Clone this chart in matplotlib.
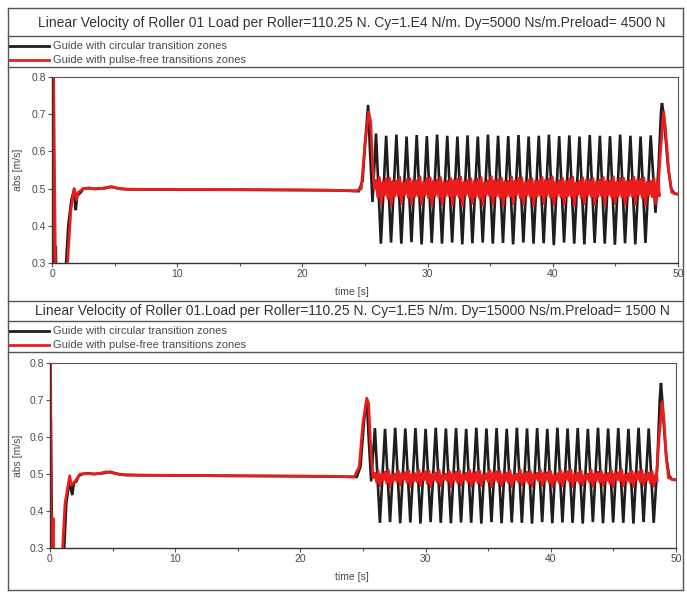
import matplotlib.pyplot as plt
from matplotlib.lines import Line2D

plt.rcParams['font.family'] = ['Liberation Sans', 'DejaVu Sans']

W, H = 687, 593

titles = [
    "Linear Velocity of Roller 01 Load per Roller=110.25 N. Cy=1.E4 N/m. Dy=5000 Ns/m.Preload= 4500 N",
    "Linear Velocity of Roller 01.Load per Roller=110.25 N. Cy=1.E5 N/m. Dy=15000 Ns/m.Preload= 1500 N",
]
legend_labels = ["Guide with circular transition zones", "Guide with pulse-free transitions zones"]
x_label = "time [s]"
y_label = "abs [m/s]"

# ---- panel 1 (Cy=1.E4) ----
p1_black_start_t = [0.0, 0.08, 0.22, 0.3, 0.38, 0.95, 1.3, 1.55, 1.75, 1.9, 2.0, 2.3, 2.5, 3.0, 3.5,
                    4.0, 4.5, 4.8, 5.2, 6.0, 10.0, 15.0, 20.0, 23.0, 24.5, 24.8, 25.05, 25.25, 25.4, 25.6]
p1_black_start_v = [0.2, 0.85, 0.2, 0.345, 0.2, 0.2, 0.40, 0.47, 0.495, 0.442, 0.48, 0.49, 0.5, 0.501, 0.499,
                    0.501, 0.503, 0.505, 0.501, 0.498, 0.497, 0.497, 0.496, 0.495, 0.493, 0.52, 0.64, 0.725, 0.60, 0.464]
p1_black_osc_t = [25.88, 26.27, 26.69, 27.08, 27.51, 27.90, 28.32, 28.71, 29.13, 29.52, 29.94, 30.33,
                  30.76, 31.15, 31.57, 31.96, 32.38, 32.77, 33.19, 33.58, 34.01, 34.40, 34.82, 35.21,
                  35.63, 36.02, 36.44, 36.83, 37.26, 37.65, 38.07, 38.46, 38.88, 39.27, 39.69, 40.08,
                  40.51, 40.90, 41.32, 41.71, 42.13, 42.52, 42.95, 43.34, 43.76, 44.15, 44.57, 44.96,
                  45.38, 45.77, 46.20, 46.59, 47.01, 47.40, 47.82, 48.20]
p1_black_osc_v = [0.648, 0.352, 0.642, 0.355, 0.645, 0.352, 0.640, 0.356, 0.644, 0.350, 0.641, 0.354,
                  0.645, 0.352, 0.642, 0.355, 0.640, 0.350, 0.643, 0.353, 0.640, 0.355, 0.645, 0.352,
                  0.642, 0.354, 0.641, 0.350, 0.644, 0.355, 0.640, 0.352, 0.642, 0.353, 0.645, 0.348,
                  0.641, 0.355, 0.643, 0.352, 0.640, 0.350, 0.644, 0.354, 0.642, 0.352, 0.641, 0.349,
                  0.645, 0.353, 0.642, 0.350, 0.640, 0.354, 0.643, 0.435]
p1_black_end_t = [48.45, 48.65, 48.72, 48.85, 49.0, 49.2, 49.45, 49.7, 50.0]
p1_black_end_v = [0.56, 0.71, 0.73, 0.70, 0.64, 0.56, 0.50, 0.487, 0.485]

p1_red_start_t = [0.0, 0.1, 0.3, 1.05, 1.5, 1.76, 1.85, 1.95, 2.1, 2.3, 2.5, 3.0, 3.3, 3.7, 4.2,
                  4.6, 5.0, 5.5, 7.0, 15.0, 22.0, 24.3, 24.7, 25.0, 25.3, 25.45, 25.6, 25.75]
p1_red_start_v = [0.2, 0.9, 0.2, 0.2, 0.44, 0.50, 0.49, 0.47, 0.49, 0.495, 0.5, 0.502, 0.499, 0.501, 0.5,
                  0.505, 0.503, 0.499, 0.498, 0.497, 0.496, 0.494, 0.50, 0.62, 0.706, 0.68, 0.57, 0.50]
p1_red_cycles = [
    [0.522, 0.478, 0.530, 0.458, 0.518, 0.482],
    [0.526, 0.474, 0.528, 0.455, 0.520, 0.480],
    [0.520, 0.480, 0.531, 0.460, 0.516, 0.484],
    [0.524, 0.476, 0.527, 0.456, 0.522, 0.479],
    [0.521, 0.479, 0.532, 0.458, 0.517, 0.483],
    [0.527, 0.475, 0.529, 0.454, 0.521, 0.481],
    [0.523, 0.477, 0.530, 0.459, 0.519, 0.480],
    [0.520, 0.481, 0.528, 0.457, 0.523, 0.482],
    [0.525, 0.476, 0.531, 0.455, 0.518, 0.484],
    [0.522, 0.478, 0.527, 0.460, 0.520, 0.479],
    [0.526, 0.474, 0.530, 0.456, 0.516, 0.483],
    [0.521, 0.480, 0.532, 0.458, 0.522, 0.481],
    [0.524, 0.477, 0.528, 0.455, 0.519, 0.480],
    [0.520, 0.479, 0.531, 0.459, 0.521, 0.484],
    [0.527, 0.475, 0.529, 0.457, 0.517, 0.482],
    [0.523, 0.478, 0.527, 0.454, 0.520, 0.479],
    [0.521, 0.481, 0.530, 0.460, 0.523, 0.483],
    [0.525, 0.476, 0.532, 0.456, 0.518, 0.481],
    [0.522, 0.477, 0.528, 0.458, 0.520, 0.480],
    [0.526, 0.479, 0.531, 0.455, 0.516, 0.484],
    [0.520, 0.475, 0.529, 0.459, 0.522, 0.482],
    [0.524, 0.478, 0.527, 0.457, 0.519, 0.479],
    [0.523, 0.480, 0.530, 0.454, 0.521, 0.483],
    [0.521, 0.476, 0.532, 0.460, 0.517, 0.481],
    [0.527, 0.477, 0.528, 0.456, 0.520, 0.480],
    [0.522, 0.479, 0.531, 0.458, 0.523, 0.484],
    [0.525, 0.475, 0.529, 0.455, 0.518, 0.482],
    [0.520, 0.478, 0.527, 0.459, 0.521, 0.480],
]
p1_red_end_t = [48.45, 48.6, 48.85, 49.0, 49.25, 49.5, 49.75, 50.0]
p1_red_end_v = [0.52, 0.60, 0.706, 0.66, 0.55, 0.49, 0.486, 0.485]

# ---- panel 2 (Cy=1.E5) ----
p2_black_start_t = [0.0, 0.06, 0.2, 1.0, 1.3, 1.55, 1.78, 1.9, 2.1, 2.3, 2.6, 3.0, 3.5, 4.0, 4.5,
                    4.8, 5.3, 6.0, 10.0, 15.0, 20.0, 23.0, 24.5, 24.8, 25.1, 25.3, 25.45, 25.65]
p2_black_start_v = [0.2, 0.646, 0.2, 0.2, 0.42, 0.48, 0.443, 0.475, 0.48, 0.495, 0.5, 0.502, 0.5, 0.501, 0.504,
                    0.506, 0.501, 0.497, 0.496, 0.495, 0.494, 0.493, 0.492, 0.52, 0.65, 0.70, 0.60, 0.48]
p2_black_osc_t = [25.95, 26.35, 26.76, 27.16, 27.57, 27.97, 28.38, 28.78, 29.19, 29.59, 30.00, 30.40,
                  30.81, 31.21, 31.62, 32.02, 32.43, 32.83, 33.24, 33.64, 34.05, 34.45, 34.86, 35.26,
                  35.67, 36.07, 36.48, 36.88, 37.29, 37.69, 38.10, 38.50, 38.91, 39.31, 39.72, 40.12,
                  40.53, 40.93, 41.34, 41.74, 42.15, 42.55, 42.96, 43.36, 43.77, 44.17, 44.58, 44.98,
                  45.39, 45.79, 46.20, 46.60, 47.01, 47.41, 47.82, 48.22]
p2_black_osc_v = [0.624, 0.368, 0.622, 0.370, 0.625, 0.367, 0.623, 0.369, 0.624, 0.366, 0.622, 0.370,
                  0.625, 0.368, 0.623, 0.367, 0.624, 0.369, 0.622, 0.368, 0.625, 0.366, 0.623, 0.370,
                  0.624, 0.367, 0.622, 0.369, 0.625, 0.368, 0.623, 0.366, 0.624, 0.370, 0.622, 0.367,
                  0.625, 0.369, 0.623, 0.368, 0.624, 0.366, 0.622, 0.370, 0.625, 0.367, 0.623, 0.369,
                  0.624, 0.368, 0.622, 0.366, 0.625, 0.370, 0.623, 0.368]
p2_black_end_t = [48.5, 48.7, 48.8, 48.9, 49.05, 49.25, 49.45, 49.7, 50.0]
p2_black_end_v = [0.52, 0.70, 0.746, 0.70, 0.62, 0.54, 0.495, 0.485, 0.484]

p2_red_start_t = [0.0, 0.04, 0.12, 0.25, 0.33, 0.85, 1.2, 1.57, 1.7, 1.85, 2.0, 2.2, 2.4, 3.0, 3.5,
                  4.0, 4.5, 5.0, 5.5, 7.0, 15.0, 22.0, 24.3, 24.7, 25.0, 25.3, 25.45, 25.6, 25.8]
p2_red_start_v = [0.2, 0.85, 0.2, 0.38, 0.2, 0.2, 0.42, 0.495, 0.47, 0.475, 0.48, 0.49, 0.5, 0.501, 0.5,
                  0.502, 0.506, 0.503, 0.499, 0.497, 0.495, 0.494, 0.492, 0.52, 0.64, 0.705, 0.69, 0.58, 0.49]
p2_red_cycles = [
    [0.502, 0.478, 0.508, 0.468, 0.500, 0.484],
    [0.505, 0.476, 0.510, 0.466, 0.498, 0.482],
    [0.500, 0.480, 0.507, 0.470, 0.502, 0.485],
    [0.504, 0.477, 0.509, 0.467, 0.499, 0.481],
    [0.501, 0.479, 0.511, 0.469, 0.503, 0.484],
    [0.506, 0.475, 0.508, 0.465, 0.500, 0.483],
    [0.503, 0.478, 0.510, 0.468, 0.497, 0.485],
    [0.500, 0.481, 0.507, 0.466, 0.501, 0.482],
    [0.505, 0.477, 0.509, 0.470, 0.499, 0.484],
    [0.502, 0.479, 0.511, 0.467, 0.502, 0.481],
    [0.504, 0.476, 0.508, 0.469, 0.498, 0.485],
    [0.501, 0.480, 0.510, 0.465, 0.503, 0.483],
    [0.506, 0.478, 0.507, 0.468, 0.500, 0.482],
    [0.503, 0.477, 0.509, 0.466, 0.497, 0.484],
    [0.500, 0.479, 0.511, 0.470, 0.501, 0.481],
    [0.505, 0.475, 0.508, 0.467, 0.499, 0.485],
    [0.502, 0.481, 0.510, 0.469, 0.502, 0.483],
    [0.504, 0.478, 0.507, 0.465, 0.498, 0.482],
    [0.501, 0.476, 0.509, 0.468, 0.503, 0.484],
    [0.506, 0.480, 0.511, 0.466, 0.500, 0.481],
    [0.503, 0.477, 0.508, 0.470, 0.497, 0.485],
    [0.500, 0.479, 0.510, 0.467, 0.501, 0.483],
    [0.505, 0.478, 0.507, 0.469, 0.499, 0.482],
    [0.502, 0.475, 0.509, 0.465, 0.502, 0.484],
    [0.504, 0.481, 0.511, 0.468, 0.498, 0.481],
    [0.501, 0.477, 0.508, 0.466, 0.503, 0.485],
    [0.506, 0.479, 0.510, 0.470, 0.500, 0.483],
    [0.503, 0.476, 0.507, 0.467, 0.497, 0.482],
]
p2_red_end_t = [48.45, 48.65, 48.9, 49.05, 49.2, 49.4, 49.7, 50.0]
p2_red_end_v = [0.50, 0.60, 0.695, 0.64, 0.55, 0.49, 0.485, 0.484]

red_offsets = [0.0, 0.135, 0.27, 0.405, 0.54, 0.675]

black_col = "#1e1e1e"
red_col = "#ec1c1c"
text_col = "#4a4a4a"
frame_col = "#555555"

fig = plt.figure(figsize=(W / 100, H / 100), dpi=100)
fig.patch.set_facecolor("white")


def fx(px):
    return px / W


def fy(py):
    return 1 - py / H


def hline(py, x0=8, x1=683, lw=1.0):
    fig.add_artist(Line2D([fx(x0), fx(x1)], [fy(py), fy(py)], color=frame_col, lw=lw,
                          transform=fig.transFigure))


def build_red(start_t, start_v, peaks, cycles, end_t, end_v):
    t = list(start_t)
    v = list(start_v)
    for pk, row in zip(peaks, cycles):
        for off, val in zip(red_offsets, row):
            t.append(pk + off)
            v.append(val)
    return t + list(end_t), v + list(end_v)


def draw_panel(lines_y, title_y, leg_y, ax_box, title, bt, bv, rt, rv):
    # boxes around title and legend
    for ly in lines_y:
        hline(ly)
    fig.text(fx(352), fy(title_y), title, ha="center", va="center", fontsize=10, color="#333333")
    # legend
    for i, (lab, col) in enumerate(zip(legend_labels, [black_col, red_col])):
        yy = leg_y + 14 * i
        fig.add_artist(Line2D([fx(9), fx(49)], [fy(yy), fy(yy)], color=col, lw=2.0,
                              transform=fig.transFigure))
        fig.text(fx(53), fy(yy), lab, ha="left", va="center", fontsize=8, color=text_col)

    left, right, atop, abot = ax_box
    ax = fig.add_axes([fx(left), fy(abot), fx(right) - fx(left), fy(atop) - fy(abot)])
    ax.plot(bt, bv, color=black_col, lw=1.9, solid_joinstyle="miter")
    ax.plot(rt, rv, color=red_col, lw=2.0)
    ax.set_xlim(0, 50)
    ax.set_ylim(0.3, 0.8)
    ax.set_xticks([0, 10, 20, 30, 40, 50])
    ax.set_xticks([5, 15, 25, 35, 45], minor=True)
    ax.set_yticks([0.3, 0.4, 0.5, 0.6, 0.7, 0.8])
    ax.set_yticklabels(["0.3", "0.4", "0.5", "0.6", "0.7", "0.8"])
    ax.tick_params(axis="both", which="major", direction="out", length=3, width=0.8,
                   labelsize=7.5, labelcolor=text_col, color=frame_col, pad=1.5)
    ax.tick_params(axis="x", which="minor", direction="out", length=2, width=0.8, color=frame_col)
    for sp in ["left", "bottom"]:
        ax.spines[sp].set_color("#333333")
        ax.spines[sp].set_linewidth(1.0)
    for sp in ["top", "right"]:
        ax.spines[sp].set_color(frame_col)
        ax.spines[sp].set_linewidth(0.8)
    fig.text(fx(18), fy((atop + abot) / 2), y_label, rotation=90, ha="center", va="center",
             fontsize=7.5, color=text_col)
    fig.text(fx(352), fy(abot + 29), x_label, ha="center", va="center", fontsize=7.5, color=text_col)
    return ax


p1_bt = p1_black_start_t + p1_black_osc_t + p1_black_end_t
p1_bv = p1_black_start_v + p1_black_osc_v + p1_black_end_v
p1_rt, p1_rv = build_red(p1_red_start_t, p1_red_start_v, p1_black_osc_t[::2], p1_red_cycles,
                         p1_red_end_t, p1_red_end_v)
p2_bt = p2_black_start_t + p2_black_osc_t + p2_black_end_t
p2_bv = p2_black_start_v + p2_black_osc_v + p2_black_end_v
p2_rt, p2_rv = build_red(p2_red_start_t, p2_red_start_v, p2_black_osc_t[::2], p2_red_cycles,
                         p2_red_end_t, p2_red_end_v)

draw_panel([8, 36, 67], 23, 46, (52, 678, 77, 263), titles[0], p1_bt, p1_bv, p1_rt, p1_rv)
draw_panel([301, 321, 352], 311, 331, (50, 676, 363, 548), titles[1], p2_bt, p2_bv, p2_rt, p2_rv)

# outer frame
fig.add_artist(Line2D([fx(8), fx(8)], [fy(8), fy(590)], color=frame_col, lw=1.0, transform=fig.transFigure))
fig.add_artist(Line2D([fx(683), fx(683)], [fy(8), fy(590)], color=frame_col, lw=1.0, transform=fig.transFigure))
hline(590)

fig.savefig("out.png", dpi=100)
